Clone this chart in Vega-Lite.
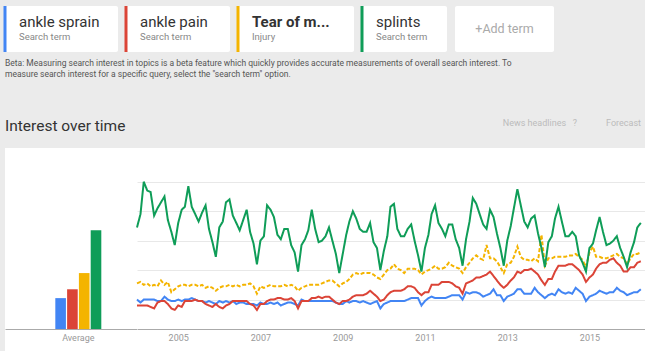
{
  "$schema": "https://vega.github.io/schema/vega-lite/v6.json",
  "background": "#ebebeb",
  "padding": {"left": 3, "top": 4, "right": 0, "bottom": 0},
  "spacing": 40,
  "config": {
    "font": "Roboto",
    "view": {"stroke": null},
    "title": {"font": "Roboto", "fontWeight": "normal"},
    "axis": {"labelFont": "Roboto"}
  },
  "vconcat": [
    {
      "hconcat": [
        {
          "width": 113, "height": 46,
          "view": {"fill": "white", "stroke": null, "cornerRadius": 2},
          "data": {"values": [{"term": "ankle sprain", "kind": "Search term"}]},
          "encoding": {"x": {"field": "term", "type": "nominal", "bandPosition": 0, "axis": null, "scale": {"paddingInner": 0, "paddingOuter": 0}}},
          "layer": [
            {"mark": {"type": "rule", "color": "#4285f4", "strokeWidth": 3}},
            {"mark": {"type": "text", "align": "left", "dx": 14, "dy": -7.5, "fontSize": 15, "color": "#333333"}, "encoding": {"text": {"field": "term"}}},
            {"mark": {"type": "text", "align": "left", "dx": 14, "dy": 8, "fontSize": 9.5, "color": "#888888"}, "encoding": {"text": {"field": "kind"}}}
          ]
        },
        {
          "width": 104, "height": 46,
          "view": {"fill": "white", "stroke": null, "cornerRadius": 2},
          "data": {"values": [{"term": "ankle pain", "kind": "Search term"}]},
          "encoding": {"x": {"field": "term", "type": "nominal", "bandPosition": 0, "axis": null, "scale": {"paddingInner": 0, "paddingOuter": 0}}},
          "layer": [
            {"mark": {"type": "rule", "color": "#db4437", "strokeWidth": 3}},
            {"mark": {"type": "text", "align": "left", "dx": 14, "dy": -7.5, "fontSize": 15, "color": "#333333"}, "encoding": {"text": {"field": "term"}}},
            {"mark": {"type": "text", "align": "left", "dx": 14, "dy": 8, "fontSize": 9.5, "color": "#888888"}, "encoding": {"text": {"field": "kind"}}}
          ]
        },
        {
          "width": 116, "height": 46,
          "view": {"fill": "white", "stroke": null, "cornerRadius": 2},
          "data": {"values": [{"term": "Tear of m...", "kind": "Injury"}]},
          "encoding": {"x": {"field": "term", "type": "nominal", "bandPosition": 0, "axis": null, "scale": {"paddingInner": 0, "paddingOuter": 0}}},
          "layer": [
            {"mark": {"type": "rule", "color": "#f4b400", "strokeWidth": 3}},
            {"mark": {"type": "text", "align": "left", "dx": 14, "dy": -7.5, "fontSize": 15, "fontWeight": "bold", "color": "#333333"}, "encoding": {"text": {"field": "term"}}},
            {"mark": {"type": "text", "align": "left", "dx": 14, "dy": 8, "fontSize": 9.5, "color": "#888888"}, "encoding": {"text": {"field": "kind"}}}
          ]
        },
        {
          "width": 85, "height": 46,
          "view": {"fill": "white", "stroke": null, "cornerRadius": 2},
          "data": {"values": [{"term": "splints", "kind": "Search term"}]},
          "encoding": {"x": {"field": "term", "type": "nominal", "bandPosition": 0, "axis": null, "scale": {"paddingInner": 0, "paddingOuter": 0}}},
          "layer": [
            {"mark": {"type": "rule", "color": "#0f9d58", "strokeWidth": 3}},
            {"mark": {"type": "text", "align": "left", "dx": 14, "dy": -7.5, "fontSize": 15, "color": "#333333"}, "encoding": {"text": {"field": "term"}}},
            {"mark": {"type": "text", "align": "left", "dx": 14, "dy": 8, "fontSize": 9.5, "color": "#888888"}, "encoding": {"text": {"field": "kind"}}}
          ]
        },
        {
          "width": 99, "height": 46,
          "view": {"fill": "white", "stroke": null, "cornerRadius": 2},
          "data": {"values": [{"term": "+Add term"}]},
          "mark": {"type": "text", "align": "center", "fontSize": 12.5, "color": "#aaaaaa"},
          "encoding": {
            "x": {"field": "term", "type": "nominal", "axis": null, "scale": {"paddingInner": 0, "paddingOuter": 0}},
            "text": {"field": "term"}
          }
        }
      ],
      "spacing": 8,
      "bounds": "flush",
      "title": {
        "text": [
          "Beta: Measuring search interest in topics is a beta feature which quickly provides accurate measurements of overall search interest. To",
          "measure search interest for a specific query, select the \"search term\" option."
        ],
        "orient": "bottom",
        "anchor": "start",
        "frame": "group",
        "fontSize": 8.5,
        "lineHeight": 11,
        "color": "#555555",
        "offset": 5
      }
    },
    {
      "hconcat": [
        {
          "width": 132, "height": 203,
          "view": {"fill": "white", "stroke": null},
          "title": {"text": "Interest over time", "anchor": "start", "frame": "group", "fontSize": 15.5, "color": "#333333", "offset": 14},
          "data": {"values": [
            {"group": "Average", "term": "sprain", "avg": 21},
            {"group": "Average", "term": "pain", "avg": 27},
            {"group": "Average", "term": "tear", "avg": 38},
            {"group": "Average", "term": "splints", "avg": 67}
          ]},
          "mark": {"type": "bar"},
          "encoding": {
            "x": {"field": "group", "type": "nominal", "title": null,
                  "scale": {"paddingInner": 0, "paddingOuter": 0.935, "align": 0.585},
                  "axis": {"offset": -22, "ticks": false, "labelAngle": 0, "domainColor": "#aaaaaa", "labelColor": "#999999", "labelFontSize": 9, "labelPadding": 4}},
            "xOffset": {"field": "term", "type": "nominal", "scale": {"domain": ["sprain", "pain", "tear", "splints"], "paddingInner": 0.1}},
            "y": {"field": "avg", "type": "quantitative", "scale": {"domain": [-14.9, 122.9], "nice": false, "zero": false}, "axis": null},
            "y2": {"datum": 0},
            "color": {"field": "term", "type": "nominal", "scale": {"domain": ["sprain", "pain", "tear", "splints"], "range": ["#4285f4", "#db4437", "#f4b400", "#0f9d58"]}, "legend": null}
          }
        },
        {
          "width": 510, "height": 203,
          "view": {"fill": "white", "stroke": null},
          "title": {"text": "News headlines\u00a0\u00a0\u00a0?\u00a0\u00a0\u00a0\u00a0\u00a0\u00a0\u00a0\u00a0\u00a0\u00a0\u00a0\u00a0\u00a0Forecast", "anchor": "end", "frame": "group", "fontSize": 9, "color": "#bbbbbb", "offset": 20, "dx": -6},
          "data": {"values": [
            {"date": "2004-01-01", "sprain": 20, "pain": 16, "tear": 31, "splints": 69},
            {"date": "2004-02-01", "sprain": 18, "pain": 16, "tear": 32, "splints": 78},
            {"date": "2004-03-01", "sprain": 20, "pain": 16, "tear": 30, "splints": 100},
            {"date": "2004-04-01", "sprain": 20, "pain": 16, "tear": 31, "splints": 94},
            {"date": "2004-05-01", "sprain": 20, "pain": 15, "tear": 29, "splints": 93},
            {"date": "2004-06-01", "sprain": 20, "pain": 14, "tear": 30, "splints": 77},
            {"date": "2004-07-01", "sprain": 19, "pain": 18, "tear": 29, "splints": 82},
            {"date": "2004-08-01", "sprain": 19, "pain": 19, "tear": 33, "splints": 86},
            {"date": "2004-09-01", "sprain": 22, "pain": 19, "tear": 30, "splints": 90},
            {"date": "2004-10-01", "sprain": 20, "pain": 17, "tear": 32, "splints": 74},
            {"date": "2004-11-01", "sprain": 19, "pain": 14, "tear": 25, "splints": 66},
            {"date": "2004-12-01", "sprain": 19, "pain": 13, "tear": 27, "splints": 57},
            {"date": "2005-01-01", "sprain": 20, "pain": 16, "tear": 29, "splints": 72},
            {"date": "2005-02-01", "sprain": 19, "pain": 15, "tear": 30, "splints": 81},
            {"date": "2005-03-01", "sprain": 20, "pain": 19, "tear": 30, "splints": 83},
            {"date": "2005-04-01", "sprain": 20, "pain": 19, "tear": 29, "splints": 97},
            {"date": "2005-05-01", "sprain": 21, "pain": 19, "tear": 30, "splints": 83},
            {"date": "2005-06-01", "sprain": 20, "pain": 20, "tear": 30, "splints": 78},
            {"date": "2005-07-01", "sprain": 19, "pain": 19, "tear": 29, "splints": 73},
            {"date": "2005-08-01", "sprain": 19, "pain": 19, "tear": 30, "splints": 79},
            {"date": "2005-09-01", "sprain": 18, "pain": 17, "tear": 28, "splints": 84},
            {"date": "2005-10-01", "sprain": 19, "pain": 16, "tear": 29, "splints": 68},
            {"date": "2005-11-01", "sprain": 18, "pain": 15, "tear": 28, "splints": 59},
            {"date": "2005-12-01", "sprain": 17, "pain": 17, "tear": 26, "splints": 49},
            {"date": "2006-01-01", "sprain": 19, "pain": 15, "tear": 28, "splints": 69},
            {"date": "2006-02-01", "sprain": 18, "pain": 14, "tear": 29, "splints": 73},
            {"date": "2006-03-01", "sprain": 19, "pain": 16, "tear": 29, "splints": 86},
            {"date": "2006-04-01", "sprain": 18, "pain": 17, "tear": 30, "splints": 88},
            {"date": "2006-05-01", "sprain": 19, "pain": 19, "tear": 29, "splints": 77},
            {"date": "2006-06-01", "sprain": 17, "pain": 19, "tear": 30, "splints": 72},
            {"date": "2006-07-01", "sprain": 18, "pain": 19, "tear": 29, "splints": 67},
            {"date": "2006-08-01", "sprain": 18, "pain": 19, "tear": 30, "splints": 74},
            {"date": "2006-09-01", "sprain": 17, "pain": 19, "tear": 30, "splints": 81},
            {"date": "2006-10-01", "sprain": 17, "pain": 17, "tear": 31, "splints": 66},
            {"date": "2006-11-01", "sprain": 17, "pain": 16, "tear": 29, "splints": 58},
            {"date": "2006-12-01", "sprain": 16, "pain": 13, "tear": 24, "splints": 44},
            {"date": "2007-01-01", "sprain": 18, "pain": 17, "tear": 29, "splints": 60},
            {"date": "2007-02-01", "sprain": 17, "pain": 17, "tear": 28, "splints": 63},
            {"date": "2007-03-01", "sprain": 17, "pain": 19, "tear": 29, "splints": 84},
            {"date": "2007-04-01", "sprain": 18, "pain": 20, "tear": 30, "splints": 81},
            {"date": "2007-05-01", "sprain": 17, "pain": 20, "tear": 29, "splints": 76},
            {"date": "2007-06-01", "sprain": 18, "pain": 21, "tear": 29, "splints": 64},
            {"date": "2007-07-01", "sprain": 16, "pain": 21, "tear": 29, "splints": 61},
            {"date": "2007-08-01", "sprain": 17, "pain": 20, "tear": 30, "splints": 68},
            {"date": "2007-09-01", "sprain": 18, "pain": 20, "tear": 29, "splints": 68},
            {"date": "2007-10-01", "sprain": 18, "pain": 21, "tear": 30, "splints": 57},
            {"date": "2007-11-01", "sprain": 17, "pain": 19, "tear": 29, "splints": 52},
            {"date": "2007-12-01", "sprain": 16, "pain": 14, "tear": 26, "splints": 39},
            {"date": "2008-01-01", "sprain": 20, "pain": 19, "tear": 28, "splints": 57},
            {"date": "2008-02-01", "sprain": 19, "pain": 19, "tear": 29, "splints": 61},
            {"date": "2008-03-01", "sprain": 19, "pain": 19, "tear": 30, "splints": 67},
            {"date": "2008-04-01", "sprain": 19, "pain": 21, "tear": 30, "splints": 81},
            {"date": "2008-05-01", "sprain": 19, "pain": 21, "tear": 30, "splints": 68},
            {"date": "2008-06-01", "sprain": 19, "pain": 22, "tear": 30, "splints": 59},
            {"date": "2008-07-01", "sprain": 19, "pain": 21, "tear": 31, "splints": 60},
            {"date": "2008-08-01", "sprain": 19, "pain": 22, "tear": 32, "splints": 63},
            {"date": "2008-09-01", "sprain": 19, "pain": 22, "tear": 33, "splints": 69},
            {"date": "2008-10-01", "sprain": 19, "pain": 20, "tear": 33, "splints": 60},
            {"date": "2008-11-01", "sprain": 18, "pain": 18, "tear": 31, "splints": 51},
            {"date": "2008-12-01", "sprain": 17, "pain": 17, "tear": 29, "splints": 38},
            {"date": "2009-01-01", "sprain": 17, "pain": 19, "tear": 31, "splints": 51},
            {"date": "2009-02-01", "sprain": 19, "pain": 19, "tear": 32, "splints": 64},
            {"date": "2009-03-01", "sprain": 18, "pain": 20, "tear": 34, "splints": 73},
            {"date": "2009-04-01", "sprain": 19, "pain": 22, "tear": 37, "splints": 80},
            {"date": "2009-05-01", "sprain": 19, "pain": 23, "tear": 38, "splints": 75},
            {"date": "2009-06-01", "sprain": 18, "pain": 23, "tear": 37, "splints": 68},
            {"date": "2009-07-01", "sprain": 19, "pain": 23, "tear": 38, "splints": 66},
            {"date": "2009-08-01", "sprain": 18, "pain": 24, "tear": 38, "splints": 66},
            {"date": "2009-09-01", "sprain": 17, "pain": 26, "tear": 38, "splints": 72},
            {"date": "2009-10-01", "sprain": 18, "pain": 24, "tear": 37, "splints": 59},
            {"date": "2009-11-01", "sprain": 19, "pain": 22, "tear": 35, "splints": 55},
            {"date": "2009-12-01", "sprain": 14, "pain": 19, "tear": 34, "splints": 40},
            {"date": "2010-01-01", "sprain": 17, "pain": 20, "tear": 37, "splints": 53},
            {"date": "2010-02-01", "sprain": 18, "pain": 23, "tear": 40, "splints": 63},
            {"date": "2010-03-01", "sprain": 19, "pain": 25, "tear": 41, "splints": 83},
            {"date": "2010-04-01", "sprain": 19, "pain": 26, "tear": 44, "splints": 85},
            {"date": "2010-05-01", "sprain": 19, "pain": 26, "tear": 41, "splints": 68},
            {"date": "2010-06-01", "sprain": 19, "pain": 26, "tear": 40, "splints": 63},
            {"date": "2010-07-01", "sprain": 19, "pain": 27, "tear": 38, "splints": 63},
            {"date": "2010-08-01", "sprain": 20, "pain": 29, "tear": 41, "splints": 68},
            {"date": "2010-09-01", "sprain": 21, "pain": 29, "tear": 41, "splints": 71},
            {"date": "2010-10-01", "sprain": 21, "pain": 28, "tear": 41, "splints": 60},
            {"date": "2010-11-01", "sprain": 21, "pain": 25, "tear": 40, "splints": 50},
            {"date": "2010-12-01", "sprain": 16, "pain": 23, "tear": 37, "splints": 39},
            {"date": "2011-01-01", "sprain": 19, "pain": 25, "tear": 39, "splints": 55},
            {"date": "2011-02-01", "sprain": 21, "pain": 25, "tear": 40, "splints": 64},
            {"date": "2011-03-01", "sprain": 22, "pain": 30, "tear": 41, "splints": 78},
            {"date": "2011-04-01", "sprain": 21, "pain": 30, "tear": 43, "splints": 84},
            {"date": "2011-05-01", "sprain": 21, "pain": 30, "tear": 41, "splints": 72},
            {"date": "2011-06-01", "sprain": 21, "pain": 32, "tear": 41, "splints": 68},
            {"date": "2011-07-01", "sprain": 21, "pain": 32, "tear": 42, "splints": 63},
            {"date": "2011-08-01", "sprain": 22, "pain": 32, "tear": 45, "splints": 71},
            {"date": "2011-09-01", "sprain": 23, "pain": 31, "tear": 43, "splints": 71},
            {"date": "2011-10-01", "sprain": 23, "pain": 29, "tear": 42, "splints": 61},
            {"date": "2011-11-01", "sprain": 23, "pain": 28, "tear": 41, "splints": 55},
            {"date": "2011-12-01", "sprain": 20, "pain": 24, "tear": 38, "splints": 43},
            {"date": "2012-01-01", "sprain": 25, "pain": 31, "tear": 42, "splints": 61},
            {"date": "2012-02-01", "sprain": 24, "pain": 32, "tear": 45, "splints": 73},
            {"date": "2012-03-01", "sprain": 25, "pain": 33, "tear": 48, "splints": 89},
            {"date": "2012-04-01", "sprain": 25, "pain": 35, "tear": 50, "splints": 85},
            {"date": "2012-05-01", "sprain": 24, "pain": 35, "tear": 48, "splints": 78},
            {"date": "2012-06-01", "sprain": 22, "pain": 36, "tear": 47, "splints": 71},
            {"date": "2012-07-01", "sprain": 23, "pain": 37, "tear": 57, "splints": 68},
            {"date": "2012-08-01", "sprain": 24, "pain": 39, "tear": 48, "splints": 81},
            {"date": "2012-09-01", "sprain": 27, "pain": 36, "tear": 48, "splints": 76},
            {"date": "2012-10-01", "sprain": 23, "pain": 33, "tear": 46, "splints": 65},
            {"date": "2012-11-01", "sprain": 23, "pain": 30, "tear": 42, "splints": 55},
            {"date": "2012-12-01", "sprain": 19, "pain": 28, "tear": 38, "splints": 43},
            {"date": "2013-01-01", "sprain": 22, "pain": 30, "tear": 44, "splints": 60},
            {"date": "2013-02-01", "sprain": 23, "pain": 33, "tear": 45, "splints": 70},
            {"date": "2013-03-01", "sprain": 24, "pain": 35, "tear": 49, "splints": 82},
            {"date": "2013-04-01", "sprain": 27, "pain": 39, "tear": 56, "splints": 95},
            {"date": "2013-05-01", "sprain": 27, "pain": 38, "tear": 49, "splints": 84},
            {"date": "2013-06-01", "sprain": 24, "pain": 40, "tear": 47, "splints": 73},
            {"date": "2013-07-01", "sprain": 24, "pain": 40, "tear": 47, "splints": 69},
            {"date": "2013-08-01", "sprain": 24, "pain": 41, "tear": 46, "splints": 75},
            {"date": "2013-09-01", "sprain": 28, "pain": 39, "tear": 48, "splints": 77},
            {"date": "2013-10-01", "sprain": 25, "pain": 37, "tear": 46, "splints": 65},
            {"date": "2013-11-01", "sprain": 23, "pain": 33, "tear": 64, "splints": 55},
            {"date": "2013-12-01", "sprain": 21, "pain": 30, "tear": 43, "splints": 42},
            {"date": "2014-01-01", "sprain": 23, "pain": 34, "tear": 48, "splints": 59},
            {"date": "2014-02-01", "sprain": 24, "pain": 34, "tear": 48, "splints": 63},
            {"date": "2014-03-01", "sprain": 23, "pain": 39, "tear": 49, "splints": 75},
            {"date": "2014-04-01", "sprain": 27, "pain": 43, "tear": 49, "splints": 83},
            {"date": "2014-05-01", "sprain": 25, "pain": 43, "tear": 49, "splints": 73},
            {"date": "2014-06-01", "sprain": 24, "pain": 43, "tear": 49, "splints": 63},
            {"date": "2014-07-01", "sprain": 25, "pain": 44, "tear": 50, "splints": 63},
            {"date": "2014-08-01", "sprain": 24, "pain": 44, "tear": 50, "splints": 66},
            {"date": "2014-09-01", "sprain": 28, "pain": 42, "tear": 51, "splints": 63},
            {"date": "2014-10-01", "sprain": 26, "pain": 40, "tear": 49, "splints": 50},
            {"date": "2014-11-01", "sprain": 24, "pain": 37, "tear": 47, "splints": 45},
            {"date": "2014-12-01", "sprain": 19, "pain": 32, "tear": 42, "splints": 39},
            {"date": "2015-01-01", "sprain": 22, "pain": 35, "tear": 52, "splints": 55},
            {"date": "2015-02-01", "sprain": 23, "pain": 37, "tear": 56, "splints": 58},
            {"date": "2015-03-01", "sprain": 24, "pain": 41, "tear": 49, "splints": 67},
            {"date": "2015-04-01", "sprain": 26, "pain": 44, "tear": 49, "splints": 76},
            {"date": "2015-05-01", "sprain": 25, "pain": 45, "tear": 48, "splints": 66},
            {"date": "2015-06-01", "sprain": 24, "pain": 45, "tear": 48, "splints": 57},
            {"date": "2015-07-01", "sprain": 25, "pain": 47, "tear": 49, "splints": 58},
            {"date": "2015-08-01", "sprain": 25, "pain": 48, "tear": 50, "splints": 60},
            {"date": "2015-09-01", "sprain": 28, "pain": 45, "tear": 51, "splints": 63},
            {"date": "2015-10-01", "sprain": 26, "pain": 43, "tear": 49, "splints": 55},
            {"date": "2015-11-01", "sprain": 25, "pain": 39, "tear": 48, "splints": 49},
            {"date": "2015-12-01", "sprain": 23, "pain": 39, "tear": 44, "splints": 42},
            {"date": "2016-01-01", "sprain": 24, "pain": 42, "tear": 48, "splints": 52},
            {"date": "2016-02-01", "sprain": 25, "pain": 42, "tear": 51, "splints": 59},
            {"date": "2016-03-01", "sprain": 25, "pain": 45, "tear": 51, "splints": 69},
            {"date": "2016-04-01", "sprain": 27, "pain": 46, "tear": 52, "splints": 72}
          ]},
          "transform": [{"fold": ["sprain", "pain", "tear", "splints"], "as": ["term", "value"]}],
          "mark": {"type": "line", "strokeWidth": 2},
          "encoding": {
            "x": {"field": "date", "type": "temporal", "title": null,
                  "scale": {"domain": [{"year": 2004, "month": 1, "date": 1}, {"year": 2016, "month": 5, "date": 26}]},
                  "axis": {"offset": -22, "ticks": false, "grid": false, "domainColor": "#aaaaaa", "labelColor": "#999999", "labelFontSize": 9, "labelPadding": 4, "format": "%Y",
                           "values": [{"year": 2005}, {"year": 2007}, {"year": 2009}, {"year": 2011}, {"year": 2013}, {"year": 2015}]}},
            "y": {"field": "value", "type": "quantitative", "scale": {"domain": [-14.9, 122.9], "nice": false, "zero": false},
                  "axis": {"title": null, "labels": false, "ticks": false, "domain": false, "grid": true, "gridColor": "#e8e8e8", "values": [20, 40, 60, 80, 100]}},
            "color": {"field": "term", "type": "nominal", "scale": {"domain": ["sprain", "pain", "tear", "splints"], "range": ["#4285f4", "#db4437", "#f4b400", "#0f9d58"]}, "legend": null},
            "strokeDash": {"field": "term", "type": "nominal", "scale": {"domain": ["sprain", "pain", "tear", "splints"], "range": [[1, 0], [1, 0], [4, 2], [1, 0]]}, "legend": null}
          }
        }
      ],
      "spacing": 0,
      "bounds": "flush"
    }
  ]
}
